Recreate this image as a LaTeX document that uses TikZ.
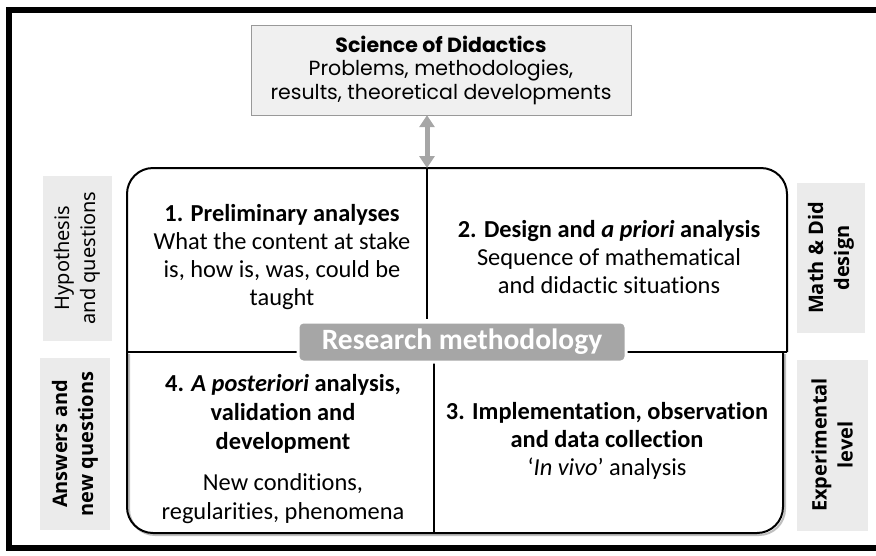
\documentclass[tikz,border=0pt]{standalone}
\usepackage{fontspec}
\setmainfont{Carlito}[Ligatures=NoCommon]
\newfontfamily\gothic{Poppins}
\newfontfamily\sidefont{Open Sans}
\newfontfamily\hypfont{Noto Sans}
\usetikzlibrary{arrows.meta}
\definecolor{sidegray}{HTML}{EBEBEB}
\definecolor{topgray}{HTML}{F0F0F0}
\definecolor{midgray}{HTML}{A6A6A6}

\begin{document}
\begin{tikzpicture}[x=1pt,y=-1pt,
  cell/.style={align=center,font=\fontsize{24.4}{28}\selectfont},
  side/.style={fill=sidegray,rotate=90,align=center,inner sep=2pt,
    font=\sidefont\fontsize{20}{26}\selectfont\bfseries}]
  \useasboundingbox (0,0) rectangle (876,555);
  % Ram
  \draw[line width=6pt] (890,9.5) -- (9,9.5) -- (9,548) -- (890,548);
  % Vetenskap
  \node[fill=topgray,draw=gray!80,minimum width=380pt,minimum height=90pt,
    align=center,font=\gothic\fontsize{20.5}{23.5}\selectfont] (sci) at (441,70)
    {\textbf{Science of Didactics}\\Problems, methodologies,\\results, theoretical developments};
  % Metod
  \coordinate (mtop) at (427,168);
  \draw[line width=2pt,rounded corners=26pt] (127,352) -- (127,168) -- (787,168) -- (787,352);
  \draw[gray!50,line width=2pt,rounded corners=26pt] (129,354) -- (129,535) -- (785,535) -- (785,354);
  \draw[line width=2pt,rounded corners=26pt] (127,352) -- (127,533) -- (783,533) -- (783,352);
  \draw[line width=2pt] (127,352) -- (787,352);
  \draw[line width=1.6pt] (mtop) -- (427,319);
  \draw[line width=1.6pt] (434,363) -- (434,533);
  \node[fill=midgray,draw=white,line width=3pt,rounded corners=5pt,minimum width=328pt,
    minimum height=40pt,text=white,font=\fontsize{29.5}{31}\selectfont\bfseries] (meth) at (462,342)
    {Research methodology};
  % Pil
  \draw[midgray,line width=5pt,{Triangle[width=15pt,length=12pt]}-{Triangle[width=15pt,length=12pt]}]
    (sci.south -| mtop) -- (mtop);
  % Rutor
  \node[cell] (pre) at (282,257)
    {\textbf{1. Preliminary analyses}\\What the content at stake\\is, how is, was, could be\\taught};
  \node[cell] (des) at (609,257)
    {\textbf{2. Design and \textit{a priori} analysis}\\Sequence of mathematical\\and didactic situations};
  \node[cell] (imp) at (607,441)
    {\textbf{3. Implementation, observation}\\\textbf{and data collection}\\`\textit{In vivo}' analysis};
  \node[cell,font=\fontsize{24.4}{29}\selectfont] (post) at (283,449)
    {\textbf{4. \textit{A posteriori} analysis,}\\\textbf{validation and}\\\textbf{development}\\[12pt]New conditions,\\regularities, phenomena};
  % Sidor
  \node[side,minimum width=165pt,minimum height=69pt,font=\hypfont\fontsize{20}{26}\selectfont] (hyp) at (77,258)
    {Hypothesis\\and questions};
  \node[side,minimum width=172pt,minimum height=70pt] (ans) at (75,444)
    {Answers and\\new questions};
  \node[side,minimum width=150pt,minimum height=68pt] (mdd) at (831,258)
    {Math \& Did\\design};
  \node[side,minimum width=171pt,minimum height=71pt] (exp) at (832,445)
    {Experimental\\level};
\end{tikzpicture}
\end{document}
